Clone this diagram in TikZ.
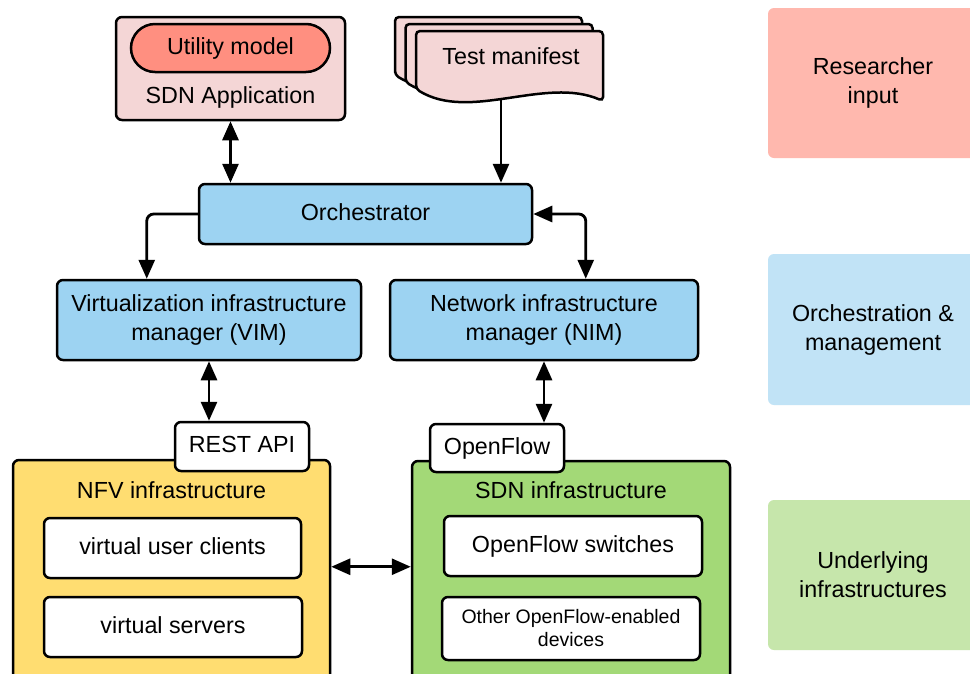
\documentclass[tikz,border=0pt]{standalone}
\usepackage{fontspec}
\setmainfont{Liberation Sans}
\usetikzlibrary{arrows.meta}
\definecolor{pinkbg}{HTML}{F4D6D6}
\definecolor{salmon}{HTML}{FF8F80}
\definecolor{bluebox}{HTML}{9DD3F2}
\definecolor{yellowbox}{HTML}{FFDD71}
\definecolor{greenbox}{HTML}{A3D977}
\definecolor{legred}{HTML}{FFB8AE}
\definecolor{legblue}{HTML}{C1E3F6}
\definecolor{leggreen}{HTML}{C6E6AB}
\begin{document}
\begin{tikzpicture}[x=1pt,y=-1pt,
  every node/.style={font=\fontsize{23.3}{29}\selectfont, text=black, align=center},
  box/.style={draw=black, line width=2.5pt, rounded corners=6pt, inner sep=0pt},
  sl/.style={text height=17pt, text depth=4.4pt},
  legend/.style={rounded corners=6pt, inner sep=0pt, minimum width=210pt, minimum height=150pt},
  docpage/.style={draw=black, fill=pinkbg, line width=2.5pt, rounded corners=4pt},
  arr/.style={line width=2.8pt, rounded corners=7pt, -{Triangle[length=19pt,width=16pt]}},
  darr/.style={line width=2.8pt, rounded corners=7pt, {Triangle[length=19pt,width=16pt]}-{Triangle[length=19pt,width=16pt]}},
  small/.style={font=\fontsize{19.5}{23}\selectfont}
]
\useasboundingbox (0,0) rectangle (970,673);
\fill[white] (0,0) rectangle (970,673);

% legend boxes
\node[legend, fill=legred] (leg1) at (873,83) {Researcher\\input};
\node[legend, fill=legblue, minimum height=151pt] (leg2) at (873,329.5) {Orchestration \&\\management};
\node[legend, fill=leggreen] (leg3) at (873,575) {Underlying\\infrastructures};

% SDN application
\node[box, fill=pinkbg, minimum width=229pt, minimum height=103pt] (app) at (230.5,68.5) {};
\node[box, sl, fill=salmon, rounded corners=24pt, minimum width=199pt, minimum height=48pt] (util) at (230.5,48) {Utility model};
\node (appt) at (230.5,97) {SDN Application};

% Test manifest (stacked documents)
\foreach \dx/\dy in {-21/-14, -10.5/-7, 0/0} {
  \path[docpage, shift={(\dx,\dy)}] (416,89) -- (416,31) -- (603,31) -- (603,101)
    .. controls (545,76) and (470,122) .. (416,89) -- cycle;
}
\node (tm) at (511,56) {Test manifest};
\coordinate (tmb) at (501,99);

% Orchestration layer
\node[box, sl, fill=bluebox, minimum width=333pt, minimum height=60pt] (orch) at (365.5,214) {Orchestrator};
\node[box, fill=bluebox, minimum width=304pt, minimum height=80pt] (vim) at (209,320) {Virtualization infrastructure\\manager (VIM)};
\node[box, fill=bluebox, minimum width=308pt, minimum height=80pt] (nim) at (544,320) {Network infrastructure\\manager (NIM)};

% Infrastructures
\node[box, fill=yellowbox, minimum width=317pt, minimum height=240pt] (nfv) at (171.5,580) {};
\node (nfvt) at (171.5,490) {NFV infrastructure};
\node[box, sl, fill=white, minimum width=257pt, minimum height=60pt] (vuc) at (172.5,548) {virtual user clients};
\node[box, sl, fill=white, minimum width=258pt, minimum height=60pt] (vs) at (173,627) {virtual servers};

\node[box, fill=greenbox, minimum width=318pt, minimum height=239pt] (sdn) at (571,580.5) {};
\node (sdnt) at (571,490) {SDN infrastructure};
\node[box, sl, fill=white, minimum width=258pt, minimum height=60pt] (ofs) at (573,546) {OpenFlow switches};
\node[box, fill=white, small, minimum width=258pt, minimum height=63pt] (ood) at (571,628.5) {Other OpenFlow-enabled\\devices};

% interface labels
\node[box, sl, fill=white, minimum width=134pt, minimum height=49pt] (rest) at (242,446.5) {REST API};
\node[box, sl, fill=white, minimum width=134pt, minimum height=48pt] (of) at (497,448) {OpenFlow};

% connectors
\draw[darr] (app.south) -- (app.south |- orch.north);
\draw[arr] (tmb) -- (tmb |- orch.north);
\draw[arr] (orch.west) -| ([xshift=91pt]vim.north west);
\draw[darr] (orch.east) -| ([xshift=197pt]nim.north west);
\draw[darr] (vim.south) -- (vim.south |- rest.north);
\draw[darr] (nim.south) -- (nim.south |- of.north);
\draw[darr] ([yshift=-108pt]nfv.north east) -- ([yshift=-107pt]sdn.north west);
\end{tikzpicture}
\end{document}
